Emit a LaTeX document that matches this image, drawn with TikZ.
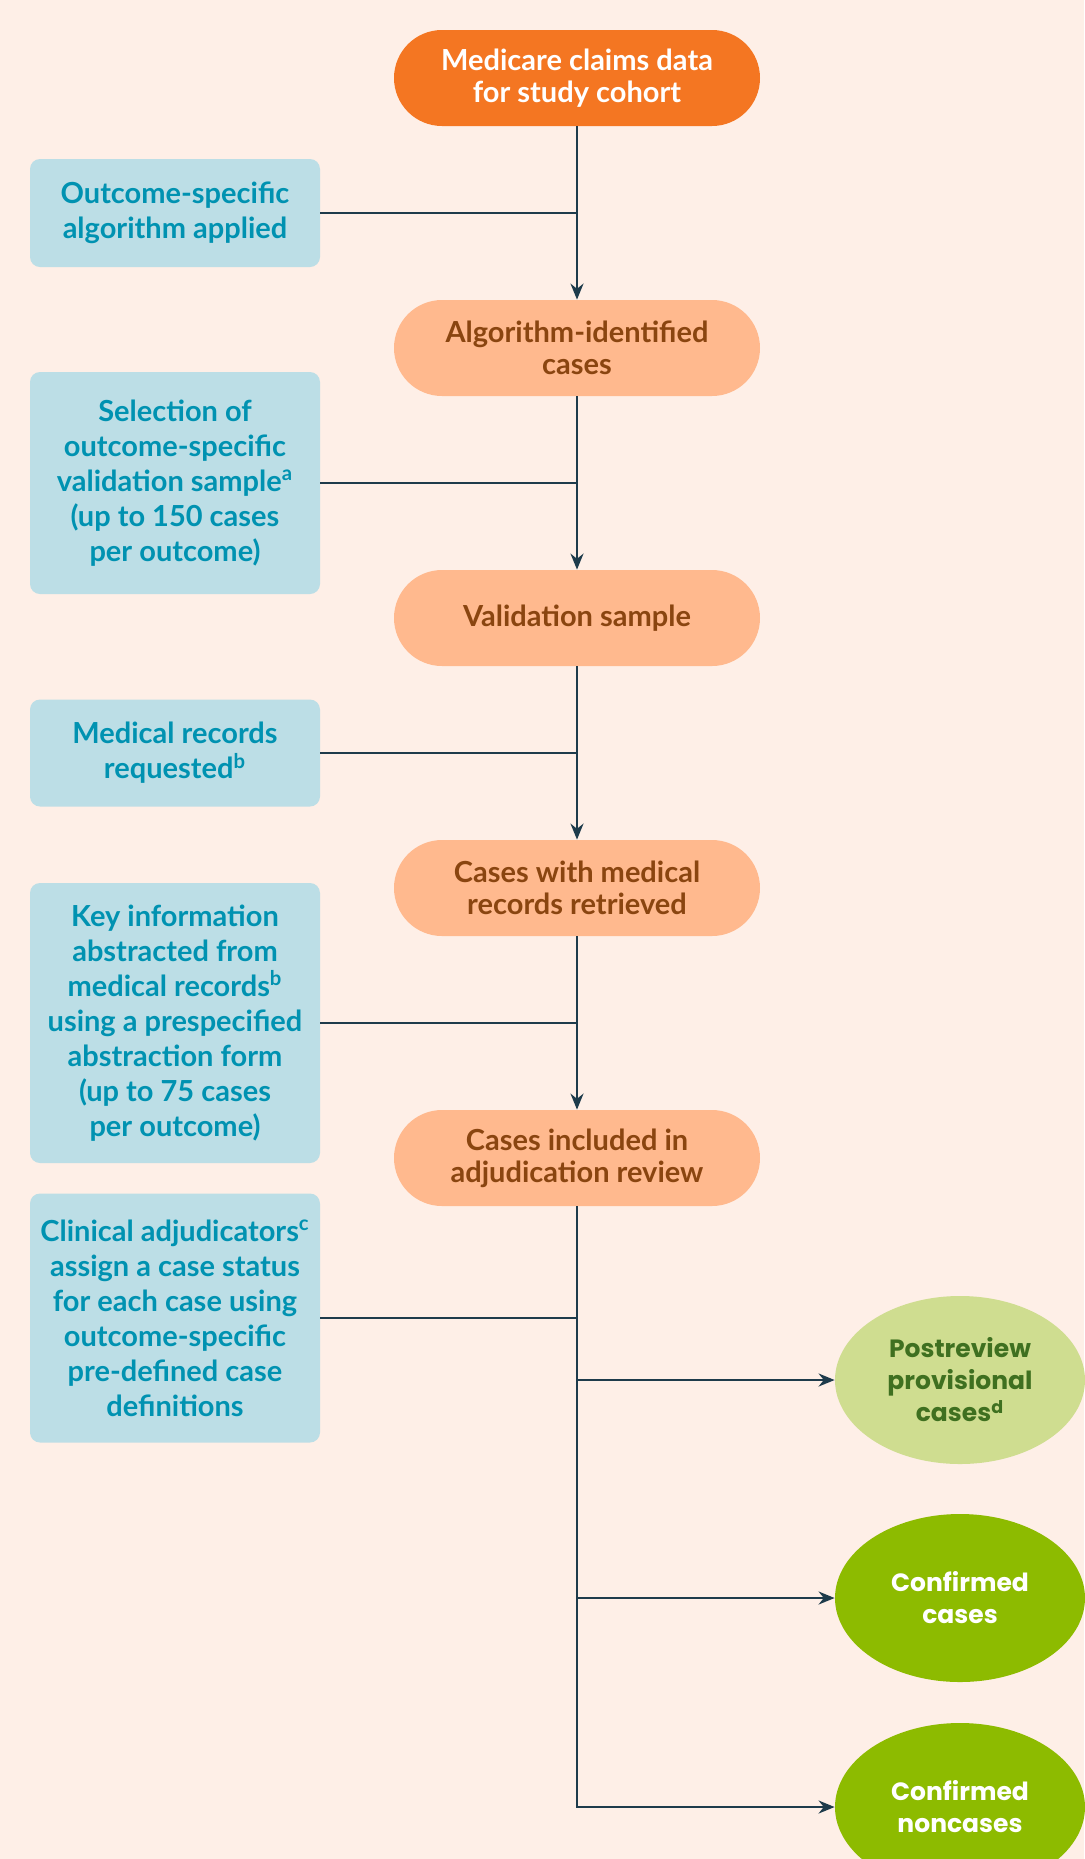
\documentclass[tikz,border=0pt]{standalone}
\usepackage{fontspec}
\setmainfont{Lato}
\newfontfamily\ellfont{Poppins}
\usetikzlibrary{arrows.meta,shapes.geometric}

\definecolor{bgpeach}{HTML}{FEEFE7}
\definecolor{toporange}{HTML}{F47622}
\definecolor{pillpeach}{HTML}{FFB98E}
\definecolor{pilltext}{HTML}{8A4510}
\definecolor{boxblue}{HTML}{BCDEE6}
\definecolor{boxtext}{HTML}{0092B1}
\definecolor{linecol}{HTML}{1E3B4B}
\definecolor{paleolive}{HTML}{CFDD90}
\definecolor{olivetext}{HTML}{3F7020}
\definecolor{brightgreen}{HTML}{8DBB00}

\begin{document}
\begin{tikzpicture}[x=0.5pt,y=-0.5pt,>={Stealth[length=8pt,width=6.5pt]},
  every node/.style={font=\bfseries\fontsize{14.5}{16}\selectfont, align=center},
  pill/.style={rectangle, rounded corners=24pt, fill=pillpeach, text=pilltext,
    minimum width=183pt, minimum height=48pt, inner sep=0pt},
  stepnote/.style={rectangle, rounded corners=5pt, fill=boxblue, text=boxtext,
    minimum width=145pt, inner sep=0pt,
    font=\bfseries\fontsize{14.5}{17.5}\selectfont},
  outcome/.style={ellipse, minimum width=125pt, minimum height=84pt, inner sep=0pt,
    font=\ellfont\bfseries\fontsize{12.5}{16}\selectfont},
  link/.style={linecol, line width=1.1pt}]
\fill[bgpeach] (0,0) rectangle (1084,1859);
\useasboundingbox (0,0) rectangle (1084,1859);

% main column
\node[pill, fill=toporange, text=white] (claims) at (577,78) {Medicare claims data\\for study cohort};
\node[pill] (algcases) at (577,348) {Algorithm-identified\\cases};
\node[pill] (valsample) at (577,618) {Validation sample};
\node[pill] (retrieved) at (577,888) {Cases with medical\\records retrieved};
\node[pill] (adjud) at (577,1158) {Cases included in\\adjudication review};

% side notes
\node[stepnote, minimum height=54pt] (applied) at (175,213) {Outcome-specific\\algorithm applied};
\node[stepnote, minimum height=111pt] (selection) at (175,483) {Selection of\\outcome-specific\\validation sample\textsuperscript{a}\\(up to 150 cases\\per outcome)};
\node[stepnote, minimum height=53.5pt] (requested) at (175,753) {Medical records\\requested\textsuperscript{b}};
\node[stepnote, minimum height=140pt] (abstracted) at (175,1023) {Key information\\abstracted from\\medical records\textsuperscript{b}\\using a prespecified\\abstraction form\\(up to 75 cases\\per outcome)};
\node[stepnote, minimum height=124.5pt] (adjudicators) at (175,1318) {Clinical adjudicators\textsuperscript{c}\\assign a case status\\for each case using\\outcome-specific\\pre-defined case\\definitions};

% outcomes
\node[outcome, fill=paleolive, text=olivetext] (provisional) at (960,1380) {Postreview\\provisional\\cases\textsuperscript{d}};
\node[outcome, fill=brightgreen, text=white] (confirmed) at (960,1598) {Confirmed\\cases};
\node[outcome, fill=brightgreen, text=white] (noncases) at (960,1807) {Confirmed\\noncases};

% connectors
\draw[link,->] (claims) -- (algcases);
\draw[link,->] (algcases) -- (valsample);
\draw[link,->] (valsample) -- (retrieved);
\draw[link,->] (retrieved) -- (adjud);
\draw[link] (applied.east) -- (applied.east -| claims.south);
\draw[link] (selection.east) -- (selection.east -| claims.south);
\draw[link] (requested.east) -- (requested.east -| claims.south);
\draw[link] (abstracted.east) -- (abstracted.east -| claims.south);
\draw[link] (adjudicators.east) -- (adjudicators.east -| claims.south);
\draw[link,->] (adjud) |- (noncases);
\draw[link,->] (adjud.south |- provisional.west) -- (provisional.west);
\draw[link,->] (adjud.south |- confirmed.west) -- (confirmed.west);
\end{tikzpicture}
\end{document}
